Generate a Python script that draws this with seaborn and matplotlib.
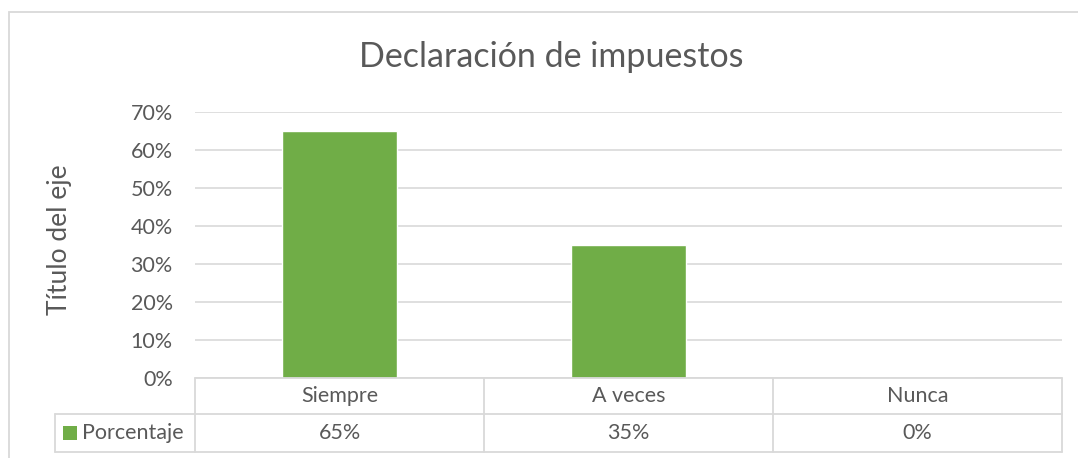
import matplotlib
matplotlib.use("Agg")
import matplotlib.pyplot as plt
import seaborn as sns
import pandas as pd
from matplotlib.lines import Line2D
from matplotlib.patches import Rectangle

categories = ["Siempre", "A veces", "Nunca"]
values = [0.65, 0.35, 0.0]
value_labels = ["65%", "35%", "0%"]
series_name = "Porcentaje"
title = "Declaración de impuestos"
ylabel = "Título del eje"
yticks = [0, 0.1, 0.2, 0.3, 0.4, 0.5, 0.6, 0.7]

sns.set_theme(style="white")
plt.rcParams['font.family'] = ['Lato', 'DejaVu Sans']

W, H = 1078, 458
TXT = "#595959"
GRID = "#D9D9D9"
GREEN = "#70AD47"
FS = 15.5

fig = plt.figure(figsize=(W / 100, H / 100), dpi=100)

def fx(px):
    return px / W

def fy(py):
    return 1 - py / H

ax_l, ax_r, ax_t, ax_b = 195, 1062, 112, 378
ax = fig.add_axes([fx(ax_l), fy(ax_b), fx(ax_r - ax_l), (ax_b - ax_t) / H])

df = pd.DataFrame({"cat": categories, "val": values})
sns.barplot(data=df, x="cat", y="val", color=GREEN, width=0.4, saturation=1, ax=ax)
ax.set_ylim(0, 0.7)
ax.set_xlim(-0.5, 2.5)
ax.set_yticks(yticks)
ax.set_yticklabels([f"{int(round(t*100))}%" for t in yticks], color=TXT, fontsize=FS)
ax.tick_params(axis="y", length=0, pad=16)
ax.set_xticks([])
ax.set_xlabel("")
ax.set_ylabel("")
for s in ax.spines.values():
    s.set_visible(False)
ax.yaxis.grid(True, color=GRID, linewidth=1.2)
ax.set_axisbelow(True)

# Chart border
fig.add_artist(Rectangle((fx(9), fy(470)), fx(1090 - 9), (470 - 12) / H,
                         transform=fig.transFigure, fill=False,
                         edgecolor="#D9D9D9", linewidth=1.3))

# Title and y label
fig.text(fx(551), fy(57), title, ha="center", va="center", fontsize=24.5, color=TXT)
fig.text(fx(59), fy(240), ylabel, ha="center", va="center", rotation=90,
         fontsize=19, color=TXT)

# Data table
cols = [195, 484, 773, 1062]
r0, r1, r2 = 378, 414, 452
lw = 1.3

def hline(x0, x1, y):
    fig.add_artist(Line2D([fx(x0), fx(x1)], [fy(y), fy(y)], transform=fig.transFigure,
                          color=GRID, linewidth=lw))

def vline(x, y0, y1):
    fig.add_artist(Line2D([fx(x), fx(x)], [fy(y0), fy(y1)], transform=fig.transFigure,
                          color=GRID, linewidth=lw))

hline(cols[0], cols[-1], r0)
hline(55, cols[-1], r1)
hline(55, cols[-1], r2)
for c in cols:
    vline(c, r0, r2)
vline(55, r1, r2)

for i, (cat, lab) in enumerate(zip(categories, value_labels)):
    cx = (cols[i] + cols[i + 1]) / 2
    fig.text(fx(cx), fy((r0 + r1) / 2), cat, ha="center", va="center", fontsize=FS, color=TXT)
    fig.text(fx(cx), fy((r1 + r2) / 2), lab, ha="center", va="center", fontsize=FS, color=TXT)

fig.add_artist(Rectangle((fx(63), fy(440)), fx(14), 14 / H, transform=fig.transFigure,
                         facecolor=GREEN, edgecolor="none"))
fig.text(fx(82), fy((r1 + r2) / 2), series_name, ha="left", va="center", fontsize=FS, color=TXT)

fig.savefig("out.png", dpi=100)
